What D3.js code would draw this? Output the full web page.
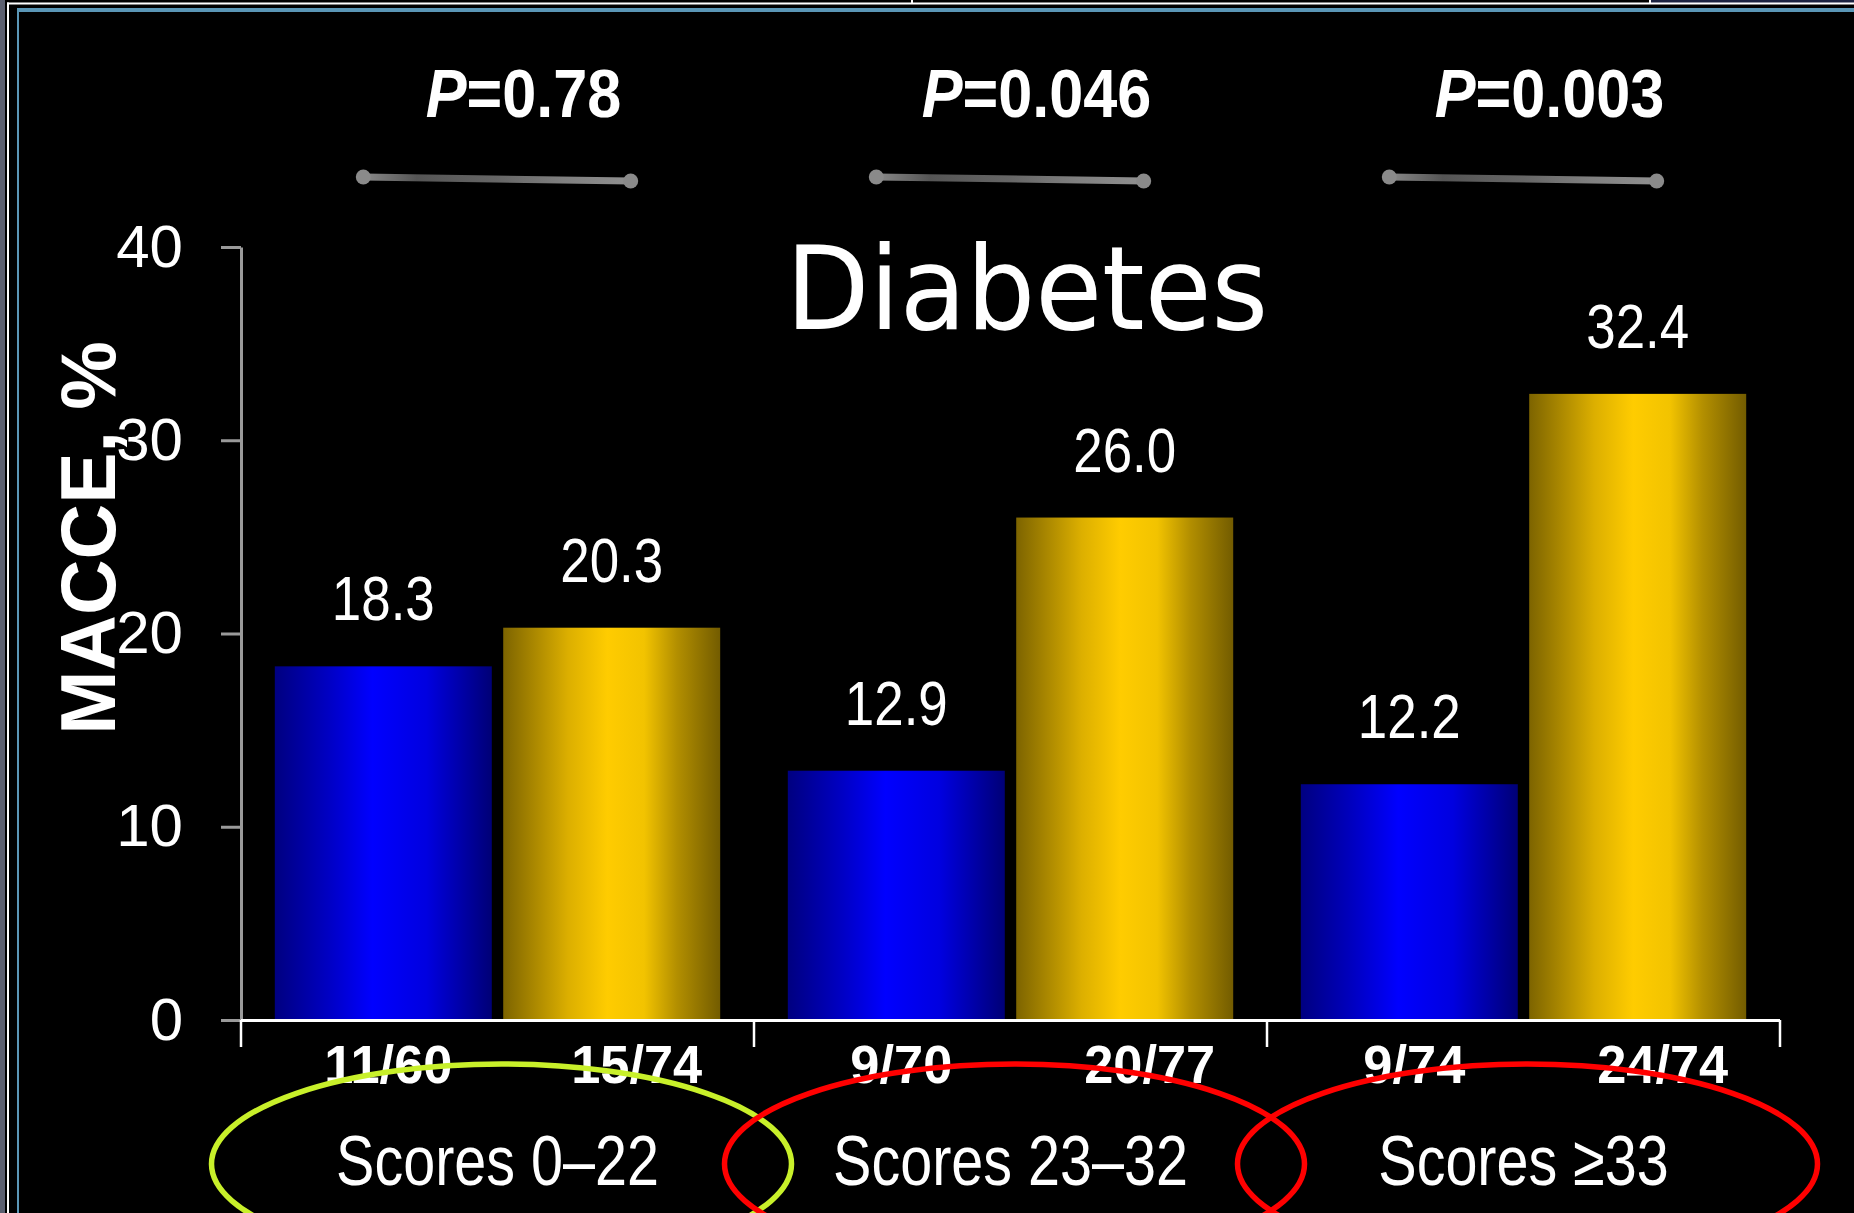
<!DOCTYPE html>
<html>
<head>
<meta charset="utf-8">
<script src="https://cdn.jsdelivr.net/npm/d3@7"></script>
<style>
  body { margin: 0; background: #000; }
  svg { display: block; }
  text { fill: #fff; }
</style>
</head>
<body>
<div id="chart"></div>
<script>
// values
const groups = ["Scores 0\u201322", "Scores 23\u201332", "Scores \u226533"];
const series = ["blue", "gold"];
const blueValues = [18.3, 12.9, 12.2];
const goldValues = [20.3, 26.0, 32.4];
const blueCounts = ["11/60", "9/70", "9/74"];
const goldCounts = ["15/74", "20/77", "24/74"];
const pValues = ["0.78", "0.046", "0.003"];
const yTicks = [0, 10, 20, 30, 40];
const ringColors = ["#c8f02a", "#ff0000", "#ff0000"];

const width = 1854, height = 1213;
const sans = "'Liberation Sans', Arial, sans-serif";

const rows = groups.map((g, i) => ({
    group: g,
    bars: [
        {key: "blue", value: blueValues[i], count: blueCounts[i]},
        {key: "gold", value: goldValues[i], count: goldCounts[i]}
    ],
    p: pValues[i],
    ring: ringColors[i]
}));

const svg = d3.select("#chart").append("svg")
    .attr("width", width).attr("height", height)
    .style("font-family", sans);

svg.append("rect").attr("width", width).attr("height", height).attr("fill", "#000");

// window frame bits
const frame = svg.append("g");
frame.append("rect").attr("x", 0).attr("y", 0).attr("width", 5).attr("height", height).attr("fill", "#5c6070");
frame.append("rect").attr("x", 1650).attr("y", 0).attr("width", 204).attr("height", 3).attr("fill", "#1c2342");
frame.append("rect").attr("x", 7).attr("y", 2.5).attr("width", width - 7).attr("height", 2).attr("fill", "#fff");
frame.append("rect").attr("x", 7).attr("y", 2.5).attr("width", 2).attr("height", height).attr("fill", "#fff");
frame.append("rect").attr("x", 911).attr("y", 0).attr("width", 2).attr("height", 3).attr("fill", "#fff");
frame.append("rect").attr("x", 1649).attr("y", 0).attr("width", 2).attr("height", 3).attr("fill", "#fff");
frame.append("rect").attr("x", 17).attr("y", 8).attr("width", width - 17).attr("height", 4).attr("fill", "#5a96b6");
frame.append("rect").attr("x", 17).attr("y", 8).attr("width", 2).attr("height", height).attr("fill", "#5a96b6");

// gradients for the bars
const defs = svg.append("defs");
const gradStops = {
    blue: [[0, "#000080"], [0.25, "#0000c4"], [0.45, "#0000ff"], [0.7, "#0000e0"], [1, "#000076"]],
    gold: [[0, "#7d6400"], [0.3, "#dcaf00"], [0.48, "#ffcc00"], [0.65, "#f2c300"], [0.8, "#b38f00"], [1, "#735c00"]]
};
series.forEach(s => {
    const lg = defs.append("linearGradient").attr("id", "g-" + s)
        .attr("x1", 0).attr("x2", 1).attr("y1", 0).attr("y2", 0);
    lg.selectAll("stop").data(gradStops[s]).enter().append("stop")
        .attr("offset", d => d[0]).attr("stop-color", d => d[1]);
});
const bracketGrad = defs.append("linearGradient").attr("id", "g-bracket")
    .attr("x1", 0).attr("x2", 1).attr("y1", 0).attr("y2", 0);
bracketGrad.selectAll("stop")
    .data([[0, "#8a8a8a"], [0.2, "#555"], [0.5, "#666"], [0.75, "#808080"], [1, "#909090"]])
    .enter().append("stop")
    .attr("offset", d => d[0]).attr("stop-color", d => d[1]);

const x0 = d3.scaleBand().domain(groups).range([241, 1780]);
const x1 = d3.scaleBand().domain(series).range([0, x0.bandwidth()])
    .paddingInner(0.05).paddingOuter(0.148);
const y = d3.scaleLinear().domain([0, 40]).range([1020, 247]);

// squeeze text horizontally to mimic the condensed slide font
function placeText(sel, fx, fy, sx) {
    sel.attr("transform", (d, i) => `translate(${fx(d, i)},${fy(d, i)}) scale(${sx},1)`);
}

// y axis
const yAxis = svg.append("g").attr("transform", "translate(241,0)")
    .call(d3.axisLeft(y).tickValues(yTicks).tickSize(20).tickSizeOuter(0).tickPadding(38));
yAxis.select(".domain").attr("stroke", "#9a9a9a").attr("stroke-width", 3);
yAxis.selectAll(".tick line").attr("stroke", "#9a9a9a").attr("stroke-width", 3);
yAxis.selectAll(".tick text")
    .attr("fill", "#fff").attr("font-size", 60)
    .style("font-family", sans);

svg.append("text")
    .attr("transform", "translate(115,538) rotate(-90)")
    .attr("text-anchor", "middle")
    .attr("font-size", 77).attr("font-weight", "bold")
    .text("MACCE, %");

// bars
const grp = svg.selectAll(".grp").data(rows).enter().append("g")
    .attr("class", "grp")
    .attr("transform", d => `translate(${x0(d.group)},0)`);

grp.selectAll("rect").data(d => d.bars).enter().append("rect")
    .attr("x", d => x1(d.key))
    .attr("y", d => y(d.value))
    .attr("width", x1.bandwidth())
    .attr("height", d => y(0) - y(d.value))
    .attr("fill", d => `url(#g-${d.key})`);

grp.selectAll(".val").data(d => d.bars).enter().append("text")
    .attr("class", "val")
    .attr("text-anchor", "middle")
    .attr("font-size", 63)
    .text(d => d.value.toFixed(1))
    .call(placeText, d => x1(d.key) + x1.bandwidth() / 2, d => y(d.value) - 46, 0.84);

// x axis line and group separators
const xEdges = groups.map(g => x0(g)).concat([x0.range()[1]]);
svg.append("line")
    .attr("x1", x0.range()[0]).attr("x2", x0.range()[1])
    .attr("y1", y(0) + 0.5).attr("y2", y(0) + 0.5)
    .attr("stroke", "#fff").attr("stroke-width", 3);
svg.selectAll(".sep").data(xEdges).enter().append("line")
    .attr("class", "sep")
    .attr("x1", d => d).attr("x2", d => d)
    .attr("y1", y(0)).attr("y2", y(0) + 27)
    .attr("stroke", "#fff").attr("stroke-width", 2.5);

// counts under each bar
grp.selectAll(".cnt").data(d => d.bars).enter().append("text")
    .attr("class", "cnt")
    .attr("text-anchor", "middle")
    .attr("font-size", 54).attr("font-weight", "bold")
    .text(d => d.count)
    .call(placeText, d => x1(d.key) + x1.bandwidth() / 2 + (d.key === "gold" ? 25 : 5), () => 1083, 0.97);

// group labels and their rings
grp.append("text")
    .attr("text-anchor", "middle")
    .attr("font-size", 71)
    .text(d => d.group)
    .call(placeText, () => x0.bandwidth() / 2, () => 1185, 0.81);

grp.append("ellipse")
    .attr("cx", x0.bandwidth() / 2 + 4).attr("cy", 1164)
    .attr("rx", 290).attr("ry", 100)
    .attr("fill", "none")
    .attr("stroke", d => d.ring).attr("stroke-width", 5.5);

// P-value brackets
const bx1 = x1("blue") + x1.bandwidth() / 2 - 20;
const bx2 = x1("gold") + x1.bandwidth() / 2 + 19;
grp.append("path")
    .attr("d", `M${bx1},177 L${bx2},181`)
    .attr("stroke", "url(#g-bracket)").attr("stroke-width", 7)
    .attr("fill", "none");
grp.selectAll(".dot").data([[bx1, 177], [bx2, 181]]).enter().append("circle")
    .attr("class", "dot")
    .attr("cx", d => d[0]).attr("cy", d => d[1]).attr("r", 7.5)
    .attr("fill", "#8a8a8a");

const pt = grp.append("text")
    .attr("text-anchor", "middle")
    .attr("font-size", 68).attr("font-weight", "bold")
    .call(placeText, () => x0.bandwidth() / 2 + 26, () => 117, 0.9);
pt.append("tspan").attr("font-style", "italic").text("P");
pt.append("tspan").text(d => "=" + d.p);

// title
svg.append("text")
    .attr("text-anchor", "middle")
    .attr("font-size", 115)
    .style("font-family", "'DejaVu Sans', Verdana, sans-serif")
    .attr("transform", "translate(1027,329) scale(0.945,1)")
    .text("Diabetes");
</script>
</body>
</html>
